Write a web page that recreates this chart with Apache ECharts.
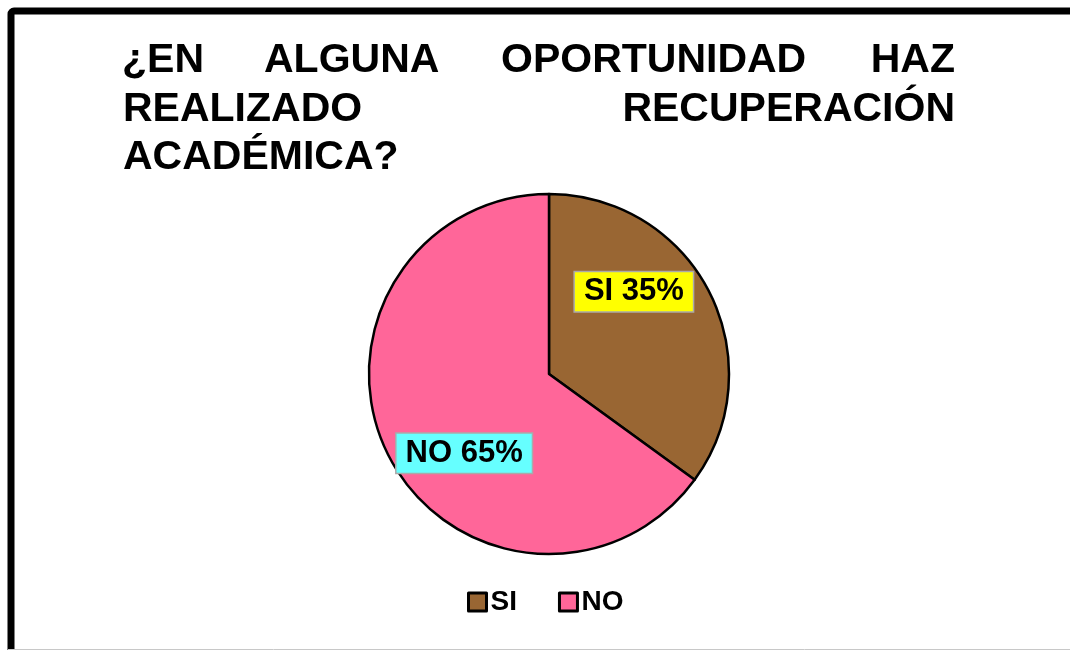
<!DOCTYPE html>
<html>
<head>
<meta charset="utf-8">
<script src="https://cdn.jsdelivr.net/npm/echarts@6/dist/echarts.min.js"></script>
<style>
  html, body { margin: 0; padding: 0; background: #fff; }
  #chart { width: 1070px; height: 650px; }
</style>
</head>
<body>
<div id="chart"></div>
<script>
// datos
var categorias = ['SI', 'NO'];
var porcentajes = [35, 65];
var colores = ['#996633', '#FF6699'];
var fondosEtiqueta = ['#FFFF00', '#66FFFF'];
var desplazamientos = [[2, -40], [-2, 37]];

var tituloFont = 'bold 41px "Liberation Sans", Arial, sans-serif';

var myChart = echarts.init(document.getElementById('chart'));

var option = {
  backgroundColor: '#ffffff',
  animation: false,
  graphic: [
    // marco
    { type: 'rect', shape: { x: 11, y: 11, width: 1200, height: 700, r: 3 },
      style: { fill: 'none', stroke: '#000', lineWidth: 7 } },
    { type: 'line', shape: { x1: 8, y1: 649.5, x2: 1070, y2: 649.5 },
      style: { stroke: '#c8c8c8', lineWidth: 1 } },
    // titulo justificado
    { type: 'text', left: 122, top: 40, style: { text: '¿EN', font: tituloFont, fill: '#000' } },
    { type: 'text', left: 264, top: 40, style: { text: 'ALGUNA', font: tituloFont, fill: '#000' } },
    { type: 'text', left: 501, top: 40, style: { text: 'OPORTUNIDAD', font: tituloFont, fill: '#000' } },
    { type: 'text', right: 1070 - 955, top: 40, style: { text: 'HAZ', font: tituloFont, fill: '#000' } },
    { type: 'text', left: 123, top: 89, style: { text: 'REALIZADO', font: tituloFont, fill: '#000' } },
    { type: 'text', right: 1070 - 955, top: 89, style: { text: 'RECUPERACIÓN', font: tituloFont, fill: '#000' } },
    { type: 'text', left: 123, top: 137, style: { text: 'ACADÉMICA?', font: tituloFont, fill: '#000' } }
  ],
  legend: {
    bottom: 29,
    left: 462,
    itemWidth: 18,
    itemHeight: 18,
    itemGap: 41,
    icon: 'rect',
    itemStyle: { borderColor: '#000', borderWidth: 3 },
    textStyle: {
      fontFamily: '"Liberation Sans", Arial, sans-serif',
      fontWeight: 'bold',
      fontSize: 28,
      color: '#000',
      padding: [0, 0, 0, -1]
    },
    data: categorias
  },
  series: [{
    type: 'pie',
    center: [549, 374],
    radius: [0, 180],
    startAngle: 90,
    clockwise: true,
    silent: true,
    itemStyle: { borderColor: '#000', borderWidth: 2.5 },
    label: {
      position: 'inside',
      formatter: '{b} {c}%',
      fontFamily: '"Liberation Sans", Arial, sans-serif',
      fontWeight: 'bold',
      fontSize: 31,
      color: '#000',
      borderColor: '#aaaaaa',
      borderWidth: 1.5,
      padding: [5, 9, 3, 9]
    },
    labelLine: { show: false },
    data: categorias.map(function (c, i) {
      return {
        name: c,
        value: porcentajes[i],
        itemStyle: { color: colores[i] },
        label: { backgroundColor: fondosEtiqueta[i], offset: desplazamientos[i] }
      };
    })
  }]
};

myChart.setOption(option);
</script>
</body>
</html>
